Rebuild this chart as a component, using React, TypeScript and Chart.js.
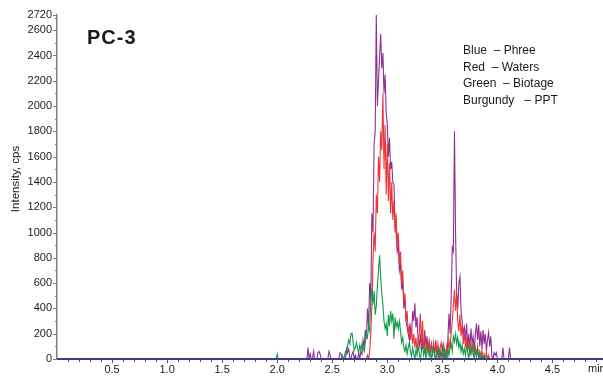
import React, { useEffect, useRef } from 'react';
import { Chart, registerables } from 'chart.js';

Chart.register(...registerables);

// ---- Data ----
const T_START = 2.0; // first sampled time (min)
const T_STEP = 0.01; // sampling step (min)
const X_MIN = 0;
const X_MAX = 4.95;
const Y_MAX = 2720;

const CHART_TITLE = 'PC-3';
const Y_TITLE = 'Intensity, cps';
const X_UNIT = 'min';
const LEGEND_LINES = ['Blue  \u2013 Phree', 'Red  \u2013 Waters', 'Green  \u2013 Biotage', 'Burgundy   \u2013 PPT'];
const SERIES_NAMES = ['Phree', 'Biotage', 'Waters', 'PPT'];

const Y_MAJOR_TICKS = [0, 200, 400, 600, 800, 1000, 1200, 1400, 1600, 1800, 2000, 2200, 2400, 2600, 2720];
const Y_MINOR_TICKS = [100, 300, 500, 700, 900, 1100, 1300, 1500, 1700, 1900, 2100, 2300, 2500, 2700];
const X_MAJOR_TICKS = [0.5, 1.0, 1.5, 2.0, 2.5, 3.0, 3.5, 4.0, 4.5];
const X_MINOR_TICKS = [
  0.1, 0.2, 0.3, 0.4, 0.6, 0.7, 0.8, 0.9, 1.1, 1.2, 1.3, 1.4, 1.6, 1.7, 1.8, 1.9,
  2.1, 2.2, 2.3, 2.4, 2.6, 2.7, 2.8, 2.9, 3.1, 3.2, 3.3, 3.4, 3.6, 3.7, 3.8, 3.9,
  4.1, 4.2, 4.3, 4.4, 4.6, 4.7, 4.8, 4.9,
];

// Green – Biotage, samples from 2.00 to 4.15 min
const GREEN = [
  40, 0, 0, 0, 0, 0, 0, 0, 0, 0, // 2.0x
  0, 0, 0, 0, 0, 0, 0, 0, 0, 0, // 2.1x
  0, 0, 0, 0, 0, 0, 0, 0, 0, 0, // 2.2x
  0, 0, 0, 0, 0, 0, 0, 0, 0, 0, // 2.3x
  0, 0, 0, 0, 0, 0, 0, 0, 0, 0, // 2.4x
  0, 0, 0, 0, 0, 0, 0, 0, 0, 30, // 2.5x
  0, 20, 60, 40, 110, 150, 120, 200, 205, 130, // 2.6x
  70, 90, 130, 80, 50, 110, 70, 120, 90, 60, // 2.7x
  130, 200, 170, 260, 220, 480, 560, 430, 540, 350, // 2.8x
  420, 580, 700, 820, 640, 520, 430, 300, 240, 280, // 2.9x
  180, 350, 260, 380, 300, 360, 160, 330, 250, 290, // 3.0x
  240, 300, 220, 130, 170, 90, 60, 110, 40, 90, // 3.1x
  130, 60, 20, 90, 40, 0, 70, 30, 100, 50, // 3.2x
  0, 60, 110, 30, 80, 0, 50, 100, 20, 70, // 3.3x
  0, 40, 90, 30, 0, 60, 20, 80, 40, 0, // 3.4x
  50, 100, 20, 60, 0, 70, 30, 90, 120, 60, // 3.5x
  180, 140, 200, 120, 170, 90, 130, 60, 110, 40, // 3.6x
  80, 30, 100, 60, 0, 90, 40, 110, 50, 0, // 3.7x
  70, 20, 80, 0, 40, 0, 30, 0, 20, 0, // 3.8x
  0, 0, 0, 0, 0, 0, 0, 0, 0, 0, // 3.9x
  0, 0, 0, 0, 0, 0, 0, 0, 0, 0, // 4.0x
  0, 0, 0, 0, 0, 0, // 4.1x
];

// Red – Waters
const RED = [
  0, 0, 0, 0, 0, 0, 0, 0, 0, 0, // 2.0x
  0, 0, 0, 0, 0, 0, 0, 0, 0, 0, // 2.1x
  0, 0, 0, 0, 0, 0, 0, 0, 0, 0, // 2.2x
  0, 0, 0, 0, 0, 0, 0, 0, 0, 0, // 2.3x
  0, 0, 0, 0, 0, 0, 0, 0, 0, 0, // 2.4x
  0, 0, 0, 0, 0, 0, 0, 0, 0, 0, // 2.5x
  0, 0, 0, 0, 0, 0, 0, 0, 0, 0, // 2.6x
  0, 0, 0, 0, 0, 0, 0, 0, 0, 0, // 2.7x
  0, 0, 30, 0, 60, 200, 420, 780, 1000, 850, // 2.8x
  1300, 1150, 1600, 1400, 1800, 1650, 2100, 1500, 1850, 1300, // 2.9x
  1700, 1250, 1550, 1150, 1400, 1100, 1250, 1000, 1150, 900, // 3.0x
  1000, 750, 850, 600, 700, 450, 520, 300, 380, 200, // 3.1x
  260, 150, 230, 120, 200, 90, 170, 60, 150, 200, // 3.2x
  360, 120, 300, 80, 150, 40, 120, 60, 130, 20, // 3.3x
  110, 60, 130, 30, 100, 50, 120, 20, 90, 130, // 3.4x
  40, 120, 70, 0, 100, 40, 150, 80, 200, 300, // 3.5x
  420, 550, 380, 520, 300, 220, 350, 180, 280, 120, // 3.6x
  200, 90, 170, 60, 140, 30, 110, 50, 130, 20, // 3.7x
  90, 40, 100, 0, 60, 20, 70, 0, 40, 0, // 3.8x
  50, 0, 30, 0, 0, 0, 0, 0, 0, 0, // 3.9x
  0, 0, 0, 0, 0, 0, 0, 0, 0, 0, // 4.0x
  0, 0, 0, 0, 0, 0, // 4.1x
];

// Burgundy – PPT
const BURGUNDY = [
  0, 0, 0, 0, 0, 0, 0, 0, 0, 0, // 2.0x
  0, 0, 0, 0, 0, 0, 0, 0, 0, 0, // 2.1x
  0, 0, 0, 0, 0, 0, 0, 0, 90, 0, // 2.2x
  40, 0, 0, 60, 0, 0, 0, 50, 60, 40, // 2.3x
  0, 0, 0, 0, 0, 0, 0, 60, 30, 0, // 2.4x
  0, 0, 0, 0, 0, 0, 0, 50, 40, 0, // 2.5x
  0, 0, 0, 80, 50, 80, 0, 0, 40, 60, // 2.6x
  0, 30, 0, 0, 50, 0, 60, 40, 150, 90, // 2.7x
  230, 160, 400, 250, 600, 450, 1150, 1000, 1700, 1800, // 2.8x
  2720, 2000, 2200, 2400, 2570, 2300, 2420, 2100, 2250, 1950, // 2.9x
  1850, 1600, 1750, 1500, 1560, 1400, 1380, 1100, 1000, 850, // 3.0x
  900, 700, 750, 550, 620, 400, 480, 300, 250, 200, // 3.1x
  150, 250, 180, 380, 300, 440, 250, 330, 150, 100, // 3.2x
  200, 60, 150, 80, 230, 100, 180, 50, 140, 60, // 3.3x
  120, 20, 100, 60, 150, 30, 80, 0, 60, 20, // 3.4x
  90, 0, 70, 30, 0, 150, 360, 200, 480, 880, // 3.5x
  850, 1800, 1000, 520, 400, 600, 650, 380, 300, 200, // 3.6x
  250, 150, 280, 100, 200, 80, 240, 120, 180, 60, // 3.7x
  200, 280, 150, 270, 100, 220, 80, 230, 120, 200, // 3.8x
  60, 150, 210, 100, 180, 20, 0, 50, 30, 50, // 3.9x
  0, 0, 0, 0, 0, 90, 0, 0, 0, 0, // 4.0x
  0, 90, 0, 0, 0, 0, // 4.1x
];

// Blue – Phree stays on the baseline over the whole run
const BLUE_TIMES = [X_MIN, X_MAX];
const BLUE = [0, 0];

const COLORS = {
  blue: '#3b3b8a',
  green: '#149a4c',
  red: '#ee3535',
  burgundy: '#8e2f93',
  axis: '#808080',
  text: '#1a1a1a',
};

const FONT = '"Liberation Sans", Arial, Helvetica, sans-serif';

function toPoints(values: number[]) {
  const pts = [{ x: X_MIN, y: 0 }, { x: Math.round((T_START - T_STEP) * 1000) / 1000, y: 0 }];
  values.forEach((v, i) => {
    pts.push({ x: Math.round((T_START + i * T_STEP) * 1000) / 1000, y: v });
  });
  pts.push({ x: X_MAX, y: 0 });
  return pts;
}

const decorPlugin = {
  id: 'decor',
  afterDraw(chart: any) {
    const ctx = chart.ctx as CanvasRenderingContext2D;
    const xs = chart.scales.x;
    const ys = chart.scales.y;
    const area = chart.chartArea;
    ctx.save();
    // y ticks
    ctx.strokeStyle = COLORS.axis;
    ctx.lineWidth = 1;
    const yAxisX = area.left;
    Y_MAJOR_TICKS.forEach((v) => {
      const py = Math.round(ys.getPixelForValue(v)) + 0.5;
      ctx.beginPath();
      ctx.moveTo(yAxisX - 4, py);
      ctx.lineTo(yAxisX, py);
      ctx.stroke();
    });
    Y_MINOR_TICKS.forEach((v) => {
      const py = Math.round(ys.getPixelForValue(v)) + 0.5;
      ctx.beginPath();
      ctx.moveTo(yAxisX - 2, py);
      ctx.lineTo(yAxisX, py);
      ctx.stroke();
    });
    // x ticks
    ctx.strokeStyle = '#555';
    const baseY = area.bottom;
    X_MAJOR_TICKS.forEach((v) => {
      const px = Math.round(xs.getPixelForValue(v)) + 0.5;
      ctx.beginPath();
      ctx.moveTo(px, baseY);
      ctx.lineTo(px, baseY + 4);
      ctx.stroke();
    });
    X_MINOR_TICKS.forEach((v) => {
      const px = Math.round(xs.getPixelForValue(v)) + 0.5;
      ctx.beginPath();
      ctx.moveTo(px, baseY);
      ctx.lineTo(px, baseY + 3);
      ctx.stroke();
    });
    // texts
    ctx.fillStyle = COLORS.text;
    ctx.textBaseline = 'alphabetic';
    ctx.textAlign = 'left';
    ctx.font = `bold 20px ${FONT}`;
    try { (ctx as any).letterSpacing = '1px'; } catch (e) {}
    ctx.fillText(CHART_TITLE, 87, 44);
    try { (ctx as any).letterSpacing = '0px'; } catch (e) {}
    ctx.font = `12px ${FONT}`;
    LEGEND_LINES.forEach((t, i) => {
      ctx.fillText(t, 463, 54 + i * 16.7);
    });
    ctx.font = `11px ${FONT}`;
    ctx.fillText(X_UNIT, 588, 372);
    // y-axis title
    ctx.save();
    ctx.translate(19, 179);
    ctx.rotate(-Math.PI / 2);
    ctx.textAlign = 'center';
    ctx.font = `11.5px ${FONT}`;
    ctx.fillText(Y_TITLE, 0, 0);
    ctx.restore();
    ctx.restore();
  },
};

export default function App() {
  const canvasRef = useRef<HTMLCanvasElement | null>(null);

  useEffect(() => {
    if (!canvasRef.current) return;
    const line = (label: string, data: any[], color: string, width: number) => ({
      label,
      data,
      borderColor: color,
      backgroundColor: color,
      borderWidth: width,
      pointRadius: 0,
      tension: 0,
      fill: false,
    });
    const chart = new Chart(canvasRef.current, {
      type: 'line',
      data: {
        datasets: [
          line(SERIES_NAMES[0], BLUE_TIMES.map((x, i) => ({ x, y: BLUE[i] })), COLORS.blue, 2),
          line(SERIES_NAMES[1], toPoints(GREEN), COLORS.green, 1.1),
          line(SERIES_NAMES[2], toPoints(RED), COLORS.red, 1.1),
          line(SERIES_NAMES[3], toPoints(BURGUNDY), COLORS.burgundy, 1.1),
        ],
      },
      options: {
        animation: false,
        responsive: false,
        layout: { padding: { top: 15, right: 1, left: 0, bottom: 0 } },
        plugins: {
          legend: { display: false },
          tooltip: { enabled: false },
          title: { display: false },
        },
        scales: {
          x: {
            type: 'linear',
            min: X_MIN,
            max: X_MAX,
            grid: { display: false, drawTicks: false },
            border: { display: true, color: COLORS.blue, width: 2 },
            afterBuildTicks: (scale: any) => {
              scale.ticks = X_MAJOR_TICKS.map((v) => ({ value: v }));
            },
            afterFit: (scale: any) => {
              scale.height = 18;
            },
            ticks: {
              autoSkip: false,
              maxRotation: 0,
              padding: 4,
              color: COLORS.text,
              font: { family: FONT, size: 11 },
              callback: (v: any) => Number(v).toFixed(1),
            },
          },
          y: {
            type: 'linear',
            min: 0,
            max: Y_MAX,
            grid: { display: false, drawTicks: false },
            border: { display: true, color: COLORS.axis, width: 1.5 },
            afterBuildTicks: (scale: any) => {
              scale.ticks = Y_MAJOR_TICKS.map((v) => ({ value: v }));
            },
            afterFit: (scale: any) => {
              scale.width = 57;
            },
            title: { display: false },
            ticks: {
              autoSkip: false,
              padding: 5,
              color: COLORS.text,
              font: { family: FONT, size: 11 },
              callback: (v: any) => String(v),
            },
          },
        },
      },
      plugins: [decorPlugin],
    });
    return () => chart.destroy();
  }, []);

  return (
    <div style={{ position: 'absolute', left: 0, top: 0, width: 603, height: 377, background: '#fff' }}>
      <canvas ref={canvasRef} width={603} height={377} />
    </div>
  );
}
